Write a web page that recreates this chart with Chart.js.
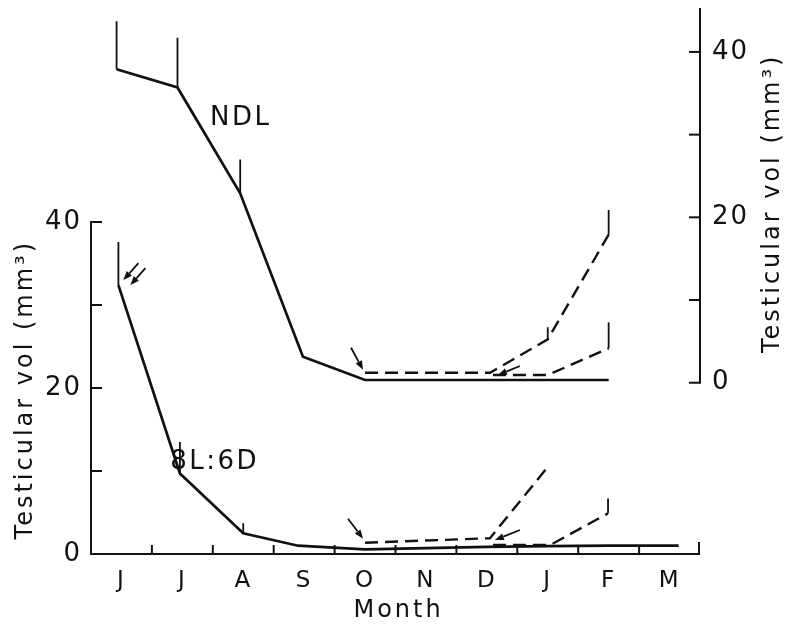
<!DOCTYPE html>
<html>
<head>
<meta charset="utf-8">
<script src="https://cdn.jsdelivr.net/npm/chart.js@4.4.1/dist/chart.umd.min.js"></script>
<style>
  html, body { margin: 0; padding: 0; background: #fff; }
  #wrap { width: 786px; height: 629px; }
</style>
</head>
<body>
<div id="wrap"><canvas id="chart" width="786" height="629"></canvas></div>
<script>
// ================================
// Data (x = month index, 0 = first J; y in mm3)
// ================================
const months = ["J", "J", "A", "S", "O", "N", "D", "J", "F", "M"];

// NDL group, upper panel (right axis)
const ndlX   = [0.42, 1.42, 2.45, 3.48, 4.5, 5.5, 6.5, 7.5, 8.5];
const ndlY   = [37.9, 35.7, 22.9, 3.14, 0.33, 0.33, 0.33, 0.33, 0.33];
const ndlErr = [43.7, 41.7, 27.0, null, null, null, null, null, null];

// NDL transferred in October (dashed)
const ndlOctX   = [4.5, 6.55, 7.5, 8.5];
const ndlOctY   = [1.2, 1.2, 5.25, 17.9];
const ndlOctErr = [null, null, 6.7, 20.9];

// NDL transferred in December (dashed)
const ndlDecX   = [6.6, 7.5, 8.5];
const ndlDecY   = [0.93, 0.93, 4.16];
const ndlDecErr = [null, null, 7.3];

// 8L:6D group, lower panel (left axis)
const sdX   = [0.45, 1.46, 2.5, 3.4, 4.5, 5.5, 6.5, 7.5, 8.5, 9.65];
const sdY   = [32.4, 9.7, 2.5, 1.0, 0.55, 0.7, 0.85, 0.95, 1.0, 1.0];
const sdErr = [37.6, 13.5, 3.7, null, null, null, null, null, null, null];

// 8L:6D transferred in October (dashed)
const sdOctX = [4.5, 6.55, 7.48];
const sdOctY = [1.36, 1.9, 10.3];

// 8L:6D transferred in December (dashed)
const sdDecX   = [6.6, 7.54, 8.49];
const sdDecY   = [1.08, 1.08, 4.9];
const sdDecErr = [null, null, 6.7];

const leftTicks  = [0, 10, 20, 30, 40];
const rightTicks = [0, 10, 20, 30, 40];

// ================================
// Helpers
// ================================
const INK = "#111";
const FONT = "DejaVu Sans";

function pts(xs, ys) {
    return xs.map((x, i) => ({ x, y: ys[i] }));
}

// vertical error bars: point -> top, separated by gaps
function errSegs(xs, ys, tops) {
    const out = [];
    xs.forEach((x, i) => {
        if (tops[i] == null) return;
        out.push({ x, y: ys[i] }, { x, y: tops[i] }, { x, y: null });
    });
    return out;
}

function lineSet(data, axis, dashed) {
    return {
        data, yAxisID: axis,
        borderColor: INK, borderWidth: dashed ? 2.4 : 2.7,
        borderDash: dashed ? [13, 7] : [],
        pointRadius: 0, tension: 0, spanGaps: false, fill: false
    };
}

function errSet(data, axis) {
    return {
        data, yAxisID: axis,
        borderColor: INK, borderWidth: 1.8,
        pointRadius: 0, tension: 0, spanGaps: false, fill: false
    };
}

function seg(ctx, x1, y1, x2, y2) {
    ctx.beginPath();
    ctx.moveTo(x1, y1);
    ctx.lineTo(x2, y2);
    ctx.stroke();
}

function arrow(ctx, tx, ty, dx, dy) {
    // tail at (tx+dx, ty+dy), head at (tx, ty)
    const len = Math.hypot(dx, dy);
    const ux = -dx / len, uy = -dy / len;
    const hl = 9, hw = 3.5;
    const bx = tx - ux * hl, by = ty - uy * hl;
    ctx.lineWidth = 1.8;
    seg(ctx, tx + dx, ty + dy, bx, by);
    ctx.beginPath();
    ctx.moveTo(tx, ty);
    ctx.lineTo(bx - uy * hw, by + ux * hw);
    ctx.lineTo(bx + uy * hw, by - ux * hw);
    ctx.closePath();
    ctx.fill();
}

function vText(ctx, text, cx, cy) {
    ctx.save();
    ctx.translate(cx, cy);
    ctx.rotate(-Math.PI / 2);
    ctx.fillText(text, 0, 0);
    ctx.restore();
}

// ================================
// Plugin: axis lines, inward ticks, titles, labels, arrows
// ================================
const decor = {
    id: "decor",
    beforeDraw(chart) {
        chart.ctx.letterSpacing = "2px";
    },
    afterDraw(chart) {
        const { ctx } = chart;
        const { x, y, y2 } = chart.scales;
        const px = v => x.getPixelForValue(v);
        const pl = v => y.getPixelForValue(v);
        const pr = v => y2.getPixelForValue(v);

        ctx.save();
        ctx.strokeStyle = INK;
        ctx.fillStyle = INK;
        ctx.lineWidth = 2;

        const xl = px(0), xr = px(10);
        const yb = pl(0);

        // bottom axis with upward ticks at month boundaries
        seg(ctx, xl, yb, xr, yb);
        for (let m = 1; m < 10; m++) seg(ctx, px(m), yb, px(m), yb - 9);
        seg(ctx, xr - 1, yb + 1, xr - 1, yb - 12);

        // left axis 0..40, ticks pointing in
        seg(ctx, xl, yb + 1, xl, pl(40) - 1);
        leftTicks.forEach(v => seg(ctx, xl, pl(v), xl + 11, pl(v)));

        // right axis 0..top, ticks pointing in
        seg(ctx, xr, pr(0) + 1, xr, chart.chartArea.top);
        rightTicks.forEach(v => seg(ctx, xr, pr(v), xr - 11, pr(v)));

        // axis titles
        ctx.letterSpacing = "3px";
        ctx.font = `24px "${FONT}"`;
        ctx.textAlign = "center";
        ctx.textBaseline = "middle";
        vText(ctx, "Testicular vol (mm³)", 26, pl(19.8));
        vText(ctx, "Testicular vol (mm³)", 773, pr(21.7));
        ctx.fillText("Month", px(5.05), 611);

        // group labels
        ctx.letterSpacing = "2.5px";
        ctx.font = `26px "${FONT}"`;
        ctx.fillText("NDL", px(2.46), pr(32.0));
        ctx.fillText("8L:6D", px(2.03), pl(11.0));

        // transfer arrows
        arrow(ctx, px(ndlOctX[0]) - 2, pr(ndlOctY[0]) - 3, -12, -22);
        arrow(ctx, px(sdOctX[0]) - 2, pl(sdOctY[0]) - 4, -15, -20);
        arrow(ctx, px(ndlDecX[0]) + 5, pr(ndlDecY[0]), 22, -9);
        arrow(ctx, px(sdDecX[0]) + 2, pl(sdDecY[0]) - 5, 25, -10);
        // double arrow at start of short days
        const jx = px(sdX[0]), jy = pl(sdY[0]);
        arrow(ctx, jx + 5, jy - 5, 15, -17);
        arrow(ctx, jx + 12, jy, 15, -17);

        ctx.restore();
    }
};

// ================================
// Chart
// ================================
const halfTicks = [];
for (let i = 0; i <= 20; i++) halfTicks.push({ value: i / 2 });

new Chart(document.getElementById("chart"), {
    type: "line",
    data: {
        datasets: [
            lineSet(pts(ndlX, ndlY), "y2", false),
            errSet(errSegs(ndlX, ndlY, ndlErr), "y2"),
            lineSet(pts(ndlOctX, ndlOctY), "y2", true),
            errSet(errSegs(ndlOctX, ndlOctY, ndlOctErr), "y2"),
            lineSet(pts(ndlDecX, ndlDecY), "y2", true),
            errSet(errSegs(ndlDecX, ndlDecY, ndlDecErr), "y2"),
            lineSet(pts(sdX, sdY), "y", false),
            errSet(errSegs(sdX, sdY, sdErr), "y"),
            lineSet(pts(sdOctX, sdOctY), "y", true),
            lineSet(pts(sdDecX, sdDecY), "y", true),
            errSet(errSegs(sdDecX, sdDecY, sdDecErr), "y")
        ]
    },
    options: {
        responsive: false,
        animation: false,
        events: [],
        layout: { padding: { top: 8, left: 0, right: 0, bottom: 0 } },
        plugins: { legend: { display: false }, tooltip: { enabled: false } },
        scales: {
            x: {
                type: "linear", min: 0, max: 10,
                afterBuildTicks: s => { s.ticks = halfTicks.map(t => ({ value: t.value })); },
                afterFit: s => { s.height = 75; s.paddingLeft = 0; s.paddingRight = 0; },
                grid: { display: false, drawTicks: false },
                border: { display: false },
                ticks: {
                    autoSkip: false, maxRotation: 0, padding: 13, color: INK,
                    font: { family: FONT, size: 23 },
                    callback: v => Number.isInteger(v) ? "" : months[Math.floor(v)]
                }
            },
            y: {
                type: "linear", position: "left", min: 0, max: 65.78,
                afterBuildTicks: s => { s.ticks = leftTicks.map(v => ({ value: v })); },
                afterFit: s => { s.width = 91; s.paddingTop = 0; s.paddingBottom = 0; },
                grid: { display: false, drawTicks: false },
                border: { display: false },
                ticks: {
                    padding: 9, color: INK,
                    font: { family: FONT, size: 26 },
                    callback: v => v % 20 === 0 ? String(v) : ""
                }
            },
            y2: {
                type: "linear", position: "right", min: -20.71, max: 45.31,
                afterBuildTicks: s => { s.ticks = rightTicks.map(v => ({ value: v })); },
                afterFit: s => { s.width = 86; s.paddingTop = 0; s.paddingBottom = 0; },
                grid: { display: false, drawTicks: false },
                border: { display: false },
                ticks: {
                    padding: 12, color: INK,
                    font: { family: FONT, size: 26 },
                    callback: v => v % 20 === 0 ? String(v) : ""
                }
            }
        }
    },
    plugins: [decor]
});
</script>
</body>
</html>
